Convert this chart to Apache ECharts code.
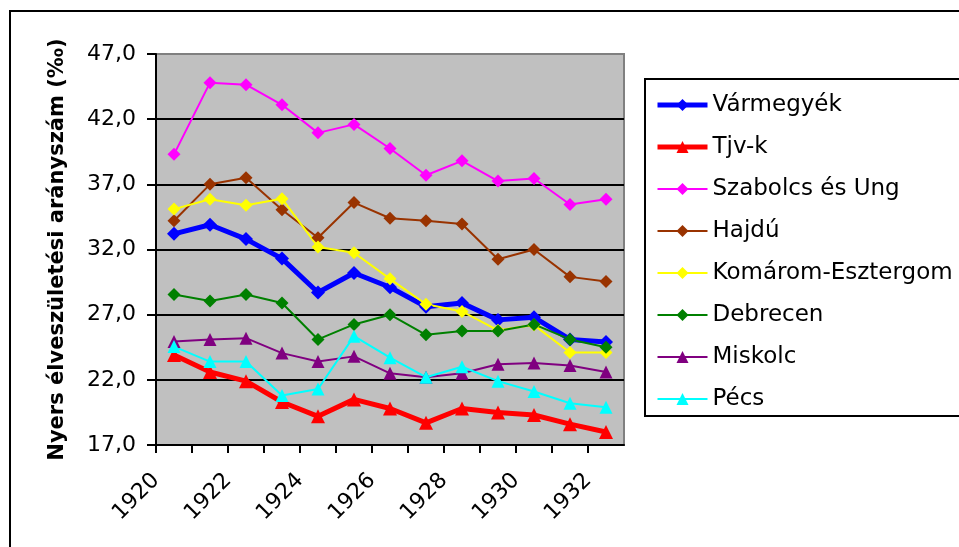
<!DOCTYPE html>
<html>
<head>
<meta charset="utf-8">
<script src="https://cdn.jsdelivr.net/npm/echarts@6/dist/echarts.min.js"></script>
<style>
  html, body { margin: 0; padding: 0; background: #fff; }
  #chart { width: 959px; height: 547px; }
</style>
</head>
<body>
<div id="chart"></div>
<script>
  // évek (a pontok az év közepére esnek)
  const years = [1920, 1921, 1922, 1923, 1924, 1925, 1926, 1927, 1928, 1929, 1930, 1931, 1932]
  const yTicks = [17, 22, 27, 32, 37, 42, 47]

  const varmegyek = [33.2, 33.9, 32.8, 31.3, 28.7, 30.2, 29.1, 27.6, 27.9, 26.6, 26.8, 25.1, 24.9]
  const tjvk = [23.9, 22.6, 21.9, 20.3, 19.2, 20.5, 19.8, 18.7, 19.8, 19.5, 19.3, 18.6, 18.0]
  const szabolcs = [39.3, 44.8, 44.65, 43.1, 40.95, 41.6, 39.75, 37.7, 38.8, 37.25, 37.45, 35.45, 35.85]
  const hajdu = [34.2, 37.0, 37.5, 35.05, 32.9, 35.6, 34.4, 34.2, 33.95, 31.25, 32.0, 29.9, 29.55]
  const komarom = [35.1, 35.85, 35.4, 35.9, 32.2, 31.75, 29.75, 27.8, 27.25, 25.8, 26.2, 24.1, 24.1]
  const debrecen = [28.55, 28.05, 28.55, 27.9, 25.1, 26.25, 27.0, 25.45, 25.75, 25.75, 26.25, 25.1, 24.5]
  const miskolc = [24.95, 25.1, 25.2, 24.05, 23.4, 23.8, 22.5, 22.2, 22.5, 23.2, 23.3, 23.1, 22.6]
  const pecs = [24.55, 23.4, 23.4, 20.8, 21.3, 25.35, 23.7, 22.2, 23.0, 21.9, 21.1, 20.2, 19.9]

  const font = 'DejaVu Sans'
  const chart = echarts.init(document.getElementById('chart'))

  const toPairs = (vals) => vals.map((v, i) => [years[i] + 0.5, v])

  const mkSeries = (name, vals, color, width, symbol, size) => ({
    name,
    type: 'line',
    data: toPairs(vals),
    symbol,
    symbolSize: size,
    showAllSymbol: true,
    lineStyle: { color, width },
    itemStyle: { color, borderWidth: 0 },
    emphasis: { disabled: true },
    animation: false
  })

  const seriesList = [
    mkSeries('Vármegyék', varmegyek, '#0000ff', 5, 'diamond', 14),
    mkSeries('Tjv-k', tjvk, '#ff0000', 5, 'triangle', 14),
    mkSeries('Szabolcs és Ung', szabolcs, '#ff00ff', 2, 'diamond', 13),
    mkSeries('Hajdú', hajdu, '#993300', 2, 'diamond', 13),
    mkSeries('Komárom-Esztergom', komarom, '#ffff00', 2, 'diamond', 13),
    mkSeries('Debrecen', debrecen, '#008000', 2, 'diamond', 13),
    mkSeries('Miskolc', miskolc, '#800080', 2, 'triangle', 13),
    mkSeries('Pécs', pecs, '#00ffff', 2, 'triangle', 13)
  ]

  const option = {
    backgroundColor: '#ffffff',
    animation: false,
    textStyle: { fontFamily: font },
    grid: {
      left: 156,
      top: 54,
      right: 335,
      bottom: 102,
      show: true,
      backgroundColor: '#c0c0c0',
      borderColor: '#808080',
      borderWidth: 2
    },
    graphic: [
      {
        type: 'rect',
        shape: { x: 10, y: 11, width: 2000, height: 2000 },
        style: { fill: 'none', stroke: '#000', lineWidth: 2 },
        silent: true
      }
    ],
    legend: {
      orient: 'vertical',
      left: 645,
      top: 79,
      padding: [14, 30, 5, 10],
      itemWidth: 50,
      itemHeight: 15,
      itemGap: 18,
      borderColor: '#000',
      borderWidth: 2,
      textStyle: { fontFamily: font, fontSize: 23, color: '#000', lineHeight: 24 },
      data: seriesList.map((s) => ({
        name: s.name,
        lineStyle: { width: s.lineStyle.width, color: s.lineStyle.color }
      }))
    },
    xAxis: {
      type: 'value',
      min: years[0],
      max: years[years.length - 1] + 1,
      interval: 1,
      splitLine: { show: false },
      axisLine: { show: true, onZero: false, lineStyle: { color: '#000', width: 2 } },
      axisTick: { show: true, length: 8, lineStyle: { color: '#000', width: 2 } },
      axisLabel: {
        rotate: 45,
        margin: 32,
        fontFamily: font,
        fontSize: 22,
        color: '#000',
        showMaxLabel: false,
        formatter: (v) => (v % 2 === 0 ? String(v) : '')
      }
    },
    yAxis: {
      type: 'value',
      min: yTicks[0],
      max: yTicks[yTicks.length - 1],
      interval: 5,
      name: 'Nyers élveszületési arányszám (‰)',
      nameLocation: 'middle',
      nameRotate: 90,
      nameGap: 88,
      nameTextStyle: { fontFamily: font, fontSize: 21, fontWeight: 'bold', color: '#000' },
      axisLine: { show: true, lineStyle: { color: '#000', width: 2 } },
      axisTick: { show: true, length: 9, lineStyle: { color: '#000', width: 2 } },
      axisLabel: {
        margin: 20,
        fontFamily: font,
        fontSize: 22,
        color: '#000',
        formatter: (v) => v.toFixed(1).replace('.', ',')
      },
      splitLine: {
        show: true,
        lineStyle: {
          color: ['#000', '#000', '#000', '#000', '#000', '#000', '#808080'],
          width: 2
        }
      }
    },
    series: seriesList
  }

  chart.setOption(option)
</script>
</body>
</html>
